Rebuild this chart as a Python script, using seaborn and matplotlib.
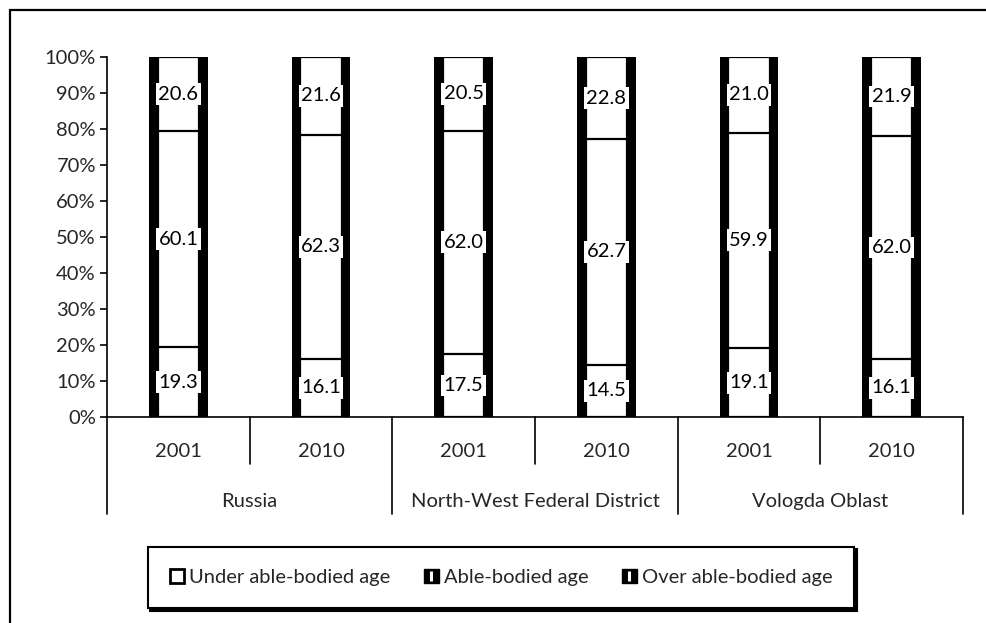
import matplotlib
matplotlib.use("Agg")
import matplotlib.pyplot as plt
from matplotlib.lines import Line2D
from matplotlib.patches import Patch
import numpy as np
import pandas as pd
import seaborn as sns

# Age structure of the population, % of total
regions = ["Russia", "North-West Federal District", "Vologda Oblast"]
years = ["2001", "2010"]
under_age = [19.3, 16.1, 17.5, 14.5, 19.1, 16.1]
able_age = [60.1, 62.3, 62.0, 62.7, 59.9, 62.0]
over_age = [20.6, 21.6, 20.5, 22.8, 21.0, 21.9]
series_names = ["Under able-bodied age", "Able-bodied age", "Over able-bodied age"]
y_ticks = [0, 10, 20, 30, 40, 50, 60, 70, 80, 90, 100]

FS = 14.5

sns.set_theme(style="white")
plt.rcParams["font.family"] = ["Lato", "DejaVu Sans"]
plt.rcParams["font.size"] = FS

bar_keys = [f"{r}|{y}" for r in regions for y in years]
df = pd.DataFrame({
    "key": bar_keys,
    "under": under_age,
    "able": able_age,
    "over": over_age,
})
df["cum_able"] = df["under"] + df["able"]
df["total"] = df["cum_able"] + df["over"]

fig = plt.figure(figsize=(9.87, 6.23), dpi=100)
ax = fig.add_axes([0.1084, 0.3307, 0.8673, 0.5778])

# outer bars in black, inner stacked segments in white with dark separators
sns.barplot(data=df, x="key", y="total", order=bar_keys, color="black",
            saturation=1, width=0.41, ax=ax, linewidth=0)
for col in ["total", "cum_able", "under"]:
    sns.barplot(data=df, x="key", y=col, order=bar_keys, color="white",
                saturation=1, width=0.29, ax=ax, edgecolor="black", linewidth=1.6)

# value labels
for i, row in df.iterrows():
    for lo, val in [(0, row["under"]), (row["under"], row["able"]), (row["cum_able"], row["over"])]:
        ax.text(i, lo + val / 2, f"{val:.1f}", ha="center", va="center", fontsize=FS,
                color="black",
                bbox=dict(boxstyle="square,pad=0.12", facecolor="white", edgecolor="none"))

ax.set_ylim(0, 100)
ax.set_xlim(-0.5, len(bar_keys) - 0.5)
ax.set_yticks(y_ticks)
ax.set_yticklabels([f"{t}%" for t in y_ticks], fontsize=FS)
ax.tick_params(axis="y", left=True, length=5, width=1.2, color="black", pad=3)
ax.set_xticks([])
ax.set_xlabel("")
ax.set_ylabel("")
for s in ["top", "right"]:
    ax.spines[s].set_visible(False)
for s in ["left", "bottom"]:
    ax.spines[s].set_color("black")
    ax.spines[s].set_linewidth(1.2)

# two-level category axis
trans = ax.get_xaxis_transform()
n = len(bar_keys)
for b in range(n + 1):
    x = b - 0.5
    depth = -0.27 if b % 2 == 0 else -0.13
    ax.add_line(Line2D([x, x], [0, depth], transform=trans, color="black",
                       lw=1.2, clip_on=False))
for i, k in enumerate(bar_keys):
    ax.text(i, -0.095, k.split("|")[1], transform=trans, ha="center", va="center",
            fontsize=FS)
for g, r in enumerate(regions):
    ax.text(2 * g + 0.5, -0.235, r, transform=trans, ha="center", va="center",
            fontsize=FS)

# legend: white box for the first series, black boxes with a light stripe for the others
stripe = Line2D([], [], marker="|", color="white", markersize=7, markeredgewidth=2.2,
                linestyle="none")
handles = [
    Patch(facecolor="white", edgecolor="black", linewidth=2),
    (Patch(facecolor="black", edgecolor="black"), stripe),
    (Patch(facecolor="black", edgecolor="black"), stripe),
]
leg = fig.legend(handles, series_names, loc="center", bbox_to_anchor=(0.5076, 0.0735),
                 ncol=3, frameon=True, fontsize=FS, handlelength=0.7, handleheight=0.7,
                 handletextpad=0.25, columnspacing=1.7, borderpad=1.1,
                 shadow={"color": "black", "alpha": 1}, fancybox=False)
leg.get_frame().set_edgecolor("black")
leg.get_frame().set_linewidth(1.5)

# figure frame (top and left edges)
fig.add_artist(Line2D([0.0101, 1.0], [0.984, 0.984], transform=fig.transFigure,
                      color="black", lw=1.6))
fig.add_artist(Line2D([0.0101, 0.0101], [0.0, 0.984], transform=fig.transFigure,
                      color="black", lw=1.6))

fig.savefig("out.png", dpi=100, facecolor="white")
